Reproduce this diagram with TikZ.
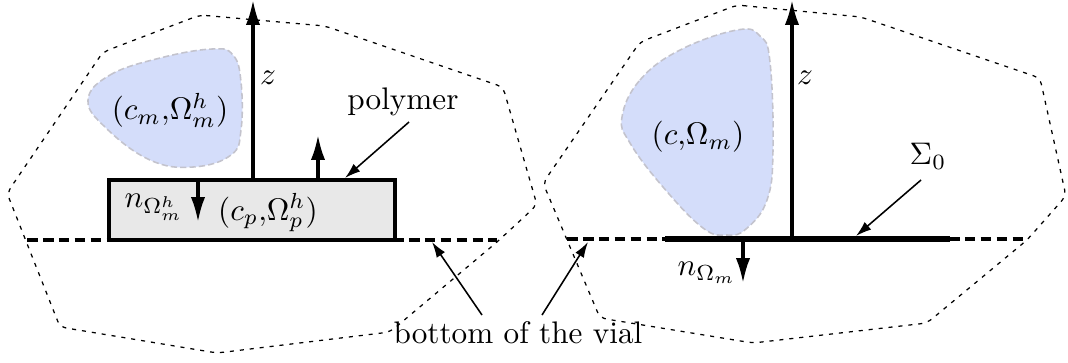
\documentclass[tikz,border=0pt]{standalone}
\usetikzlibrary{arrows.meta}
\definecolor{blobblue}{RGB}{212,221,250}
\definecolor{blobedge}{RGB}{195,195,205}
\begin{document}
\begin{tikzpicture}[x=0.3205pt,y=-0.3205pt,
  vial/.style={line width=0.4pt, dash pattern=on 1.3pt off 1.9pt, rounded corners=2pt},
  blob/.style={fill=blobblue, draw=blobedge, line width=0.5pt, dash pattern=on 2pt off 1pt},
  bottomline/.style={line width=1pt, dash pattern=on 3.4pt off 1.7pt},
  axis/.style={line width=1pt, -{Latex[length=8pt,width=4.6pt]}},
  pointer/.style={line width=0.5pt, -{Latex[length=5pt,width=3.2pt]}},
  polybox/.style={draw, line width=1pt, fill=black!9},
  interface/.style={line width=1.7pt},
  lbl/.style={inner sep=0pt}
]
\useasboundingbox (0,0) rectangle (1068,362);

% ---------------- left picture ----------------
\draw[vial] (200,15) -- (325,26) -- (503,87) -- (537,205) -- (497,242) -- (390,332)
  -- (217,353) -- (60,327) -- (7,193) -- (103,52) -- cycle;
\draw[blob] plot[smooth cycle, tension=0.7] coordinates
  {(88,100) (110,75) (160,58) (212,49) (233,55) (241,82) (241,130) (231,155) (193,167) (150,160) (106,128)};
\node[lbl] (cm) at (170,110) {$(c_m{,}\Omega^h_m)$};

\draw[bottomline] (27,240) -- (497,240);
\draw[polybox] (109,180) rectangle (395,240);

\coordinate (zLb) at (253,180);
\coordinate (zLt) at (253,0);
\draw[axis] (zLb) -- (zLt);
\node[lbl] (zL) at (268,78) {$z$};

\coordinate (upb) at (318,180);
\coordinate (upt) at (318,135);
\draw[axis] (upb) -- (upt);

\coordinate (nLb) at (198,180);
\coordinate (nLt) at (198,222);
\draw[axis] (nLb) -- (nLt);
\node[lbl] (nL) at (154,207) {$n_{\Omega^h_m}$};
\node[lbl] (cp) at (268,213) {$(c_p{,}\Omega^h_p)$};

\node[lbl] (poly) at (403,102) {polymer};
\coordinate (polyS) at (409,122);
\coordinate (polyE) at (345,178);
\draw[pointer] (polyS) -- (polyE);

% ---------------- right picture ----------------
\draw[vial] (737,5) -- (861,17) -- (1040,78) -- (1066,196) -- (1027,240) -- (927,323)
  -- (753,343) -- (600,318) -- (543,183) -- (640,42) -- cycle;
\draw[blob] plot[smooth cycle, tension=0.7] coordinates
  {(622,117) (640,80) (680,50) (737,30) (760,36) (770,62) (773,150) (767,200) (746,229) (727,235) (703,228) (663,187) (630,143)};
\node[lbl] (c) at (698,137) {$(c{,}\Omega_m)$};

\draw[bottomline] (567,239) -- (1027,239);
\coordinate (sigA) at (665,239);
\coordinate (sigB) at (950,239);
\draw[interface] (sigA) -- (sigB);

\coordinate (zRb) at (792,239);
\coordinate (zRt) at (792,0);
\draw[axis] (zRb) -- (zRt);
\node[lbl] (zR) at (805,78) {$z$};

\coordinate (nRb) at (743,239);
\coordinate (nRt) at (743,283);
\draw[axis] (nRb) -- (nRt);
\node[lbl] (nR) at (707,273) {$n_{\Omega_m}$};

\node[lbl] (sig) at (928,156) {$\Sigma_0$};
\coordinate (sigS) at (921,180);
\coordinate (sigE) at (856,236);
\draw[pointer] (sigS) -- (sigE);

% ---------------- bottom of the vial ----------------
\node[lbl, anchor=base] (vial) at (518,343) {bottom of the vial};
\coordinate (vA) at (482,315);
\coordinate (vAe) at (432,242);
\coordinate (vB) at (542,315);
\coordinate (vBe) at (588,242);
\draw[pointer] (vA) -- (vAe);
\draw[pointer] (vB) -- (vBe);
\end{tikzpicture}
\end{document}
